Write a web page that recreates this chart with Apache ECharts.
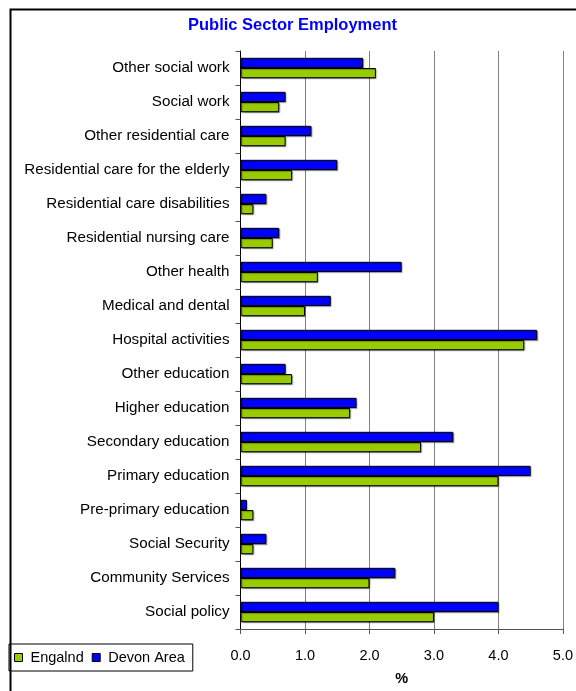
<!DOCTYPE html>
<html>
<head>
<meta charset="utf-8">
<script src="https://cdn.jsdelivr.net/npm/echarts@6/dist/echarts.min.js"></script>
<style>html,body{margin:0;padding:0;background:#fff;}#c{width:576px;height:691px;}</style>
</head>
<body>
<div id="c"></div>
<script>
// Categories listed bottom-to-top
var categories = ['Social policy','Community Services','Social Security','Pre-primary education','Primary education','Secondary education','Higher education','Other education','Hospital activities','Medical and dental','Other health','Residential nursing care','Residential care disabilities','Residential care for the elderly','Other residential care','Social work','Other social work'];
var englandValues = [3.0, 2.0, 0.2, 0.2, 4.0, 2.8, 1.7, 0.8, 4.4, 1.0, 1.2, 0.5, 0.2, 0.8, 0.7, 0.6, 2.1];
var devonValues = [4.0, 2.4, 0.4, 0.1, 4.5, 3.3, 1.8, 0.7, 4.6, 1.4, 2.5, 0.6, 0.4, 1.5, 1.1, 0.7, 1.9];
var seriesNames = ['Engalnd', 'Devon Area'];
var xTicks = [0, 1, 2, 3, 4, 5];

var font = 'Liberation Sans, Arial, sans-serif';
var chart = echarts.init(document.getElementById('c'), null, {renderer: 'canvas'});
var barStyle = function (c) {
  return {color: c, borderColor: '#000', borderWidth: 1,
    shadowColor: 'rgba(0,0,0,0.3)', shadowOffsetX: 1, shadowOffsetY: 1, shadowBlur: 1};
};
chart.setOption({
  animation: false,
  backgroundColor: '#fff',
  title: {
    text: 'Public Sector Employment',
    left: 183, top: 12, padding: 5,
    textStyle: {color: '#0000FF', fontWeight: 'bold', fontSize: 16.5, fontFamily: font}
  },
  graphic: [{
    type: 'rect', left: 8, top: 7, silent: true,
    shape: {width: 620, height: 720},
    style: {fill: 'none', stroke: '#000', lineWidth: 2}
  }],
  legend: {
    data: seriesNames,
    orient: 'horizontal',
    left: 9, top: 644,
    padding: [6, 8, 6, 5],
    itemWidth: 8, itemHeight: 8, itemGap: 8,
    borderColor: '#000', borderWidth: 1,
    icon: 'rect',
    itemStyle: {borderColor: '#000', borderWidth: 1, shadowBlur: 0, shadowOffsetX: 0, shadowOffsetY: 0},
    textStyle: {fontSize: 14.5, fontFamily: font, color: '#000', padding: [0, 0, 0, 3]}
  },
  grid: {left: 240.5, right: 12, top: 51, bottom: 61, containLabel: false},
  xAxis: {
    type: 'value', min: xTicks[0], max: xTicks[xTicks.length - 1], interval: 1,
    name: '%', nameLocation: 'middle', nameGap: 42,
    nameTextStyle: {fontWeight: 'bold', fontSize: 14.5, fontFamily: font, color: '#000'},
    axisLine: {show: true, lineStyle: {color: '#555', width: 1}},
    axisTick: {show: true, length: 5, lineStyle: {color: '#555'}},
    axisLabel: {fontSize: 14.5, fontFamily: font, color: '#000', margin: 19,
      formatter: function (v) { return v.toFixed(1); }},
    splitLine: {show: true, lineStyle: {color: '#808080', width: 1}}
  },
  yAxis: {
    type: 'category', data: categories,
    axisLine: {show: true, lineStyle: {color: '#000', width: 1}},
    axisTick: {show: true, length: 5, lineStyle: {color: '#555'}},
    axisLabel: {fontSize: 15.2, fontFamily: font, color: '#000', margin: 11},
    splitLine: {show: false}
  },
  series: [
    {name: seriesNames[1], type: 'bar', data: devonValues, barGap: '0%', barCategoryGap: '40%',
      itemStyle: barStyle('#0000FF')},
    {name: seriesNames[0], type: 'bar', data: englandValues, barGap: '0%', barCategoryGap: '40%',
      itemStyle: barStyle('#99CC00')}
  ]
});
</script>
</body>
</html>
